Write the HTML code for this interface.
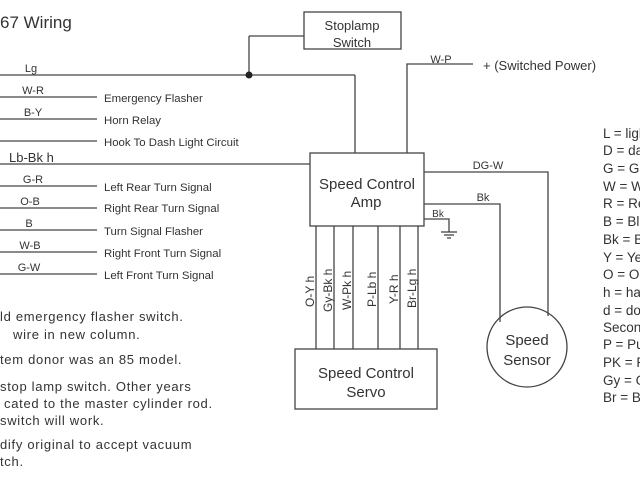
<!DOCTYPE html>
<html><head><meta charset="utf-8"><style>
html,body{margin:0;padding:0;background:#fff;width:640px;height:480px;overflow:hidden}
svg text{font-family:"Liberation Sans",sans-serif;fill:#333}
</style></head><body>
<svg width="640" height="480" viewBox="0 0 640 480" xmlns="http://www.w3.org/2000/svg">
<g stroke="#444" stroke-width="1.3" fill="none">
<line x1="0" y1="75" x2="355" y2="75"/>
<line x1="355" y1="75" x2="355" y2="153"/>
<line x1="249" y1="75" x2="249" y2="36"/>
<line x1="249" y1="36" x2="304" y2="36"/>
<line x1="0" y1="97" x2="97" y2="97"/>
<line x1="0" y1="119" x2="97" y2="119"/>
<line x1="0" y1="141" x2="97" y2="141"/>
<line x1="0" y1="164" x2="310" y2="164"/>
<line x1="0" y1="186" x2="97" y2="186"/>
<line x1="0" y1="208" x2="97" y2="208"/>
<line x1="0" y1="230" x2="97" y2="230"/>
<line x1="0" y1="252" x2="97" y2="252"/>
<line x1="0" y1="274" x2="97" y2="274"/>
<rect x="304" y="12" width="97" height="37"/>
<rect x="310" y="153" width="114" height="73"/>
<rect x="295" y="349" width="142" height="60"/>
<circle cx="527" cy="347" r="40"/>
<polyline points="407,153 407,64 473,64"/>
<polyline points="424,172 548,172 548,316"/>
<polyline points="424,204 500,204 500,322"/>
<polyline points="424,219 449,219 449,232"/>
<line x1="441" y1="232" x2="457" y2="232"/>
<line x1="444" y1="235" x2="454" y2="235"/>
<line x1="447" y1="238" x2="451" y2="238"/>
<line x1="316" y1="226" x2="316" y2="349"/>
<line x1="334" y1="226" x2="334" y2="349"/>
<line x1="353" y1="226" x2="353" y2="349"/>
<line x1="378" y1="226" x2="378" y2="349"/>
<line x1="400" y1="226" x2="400" y2="349"/>
<line x1="418" y1="226" x2="418" y2="349"/>
</g>
<circle cx="249" cy="75" r="3.5" fill="#222"/>
<text x="0" y="28" font-size="17">67 Wiring</text>
<g font-size="11" text-anchor="middle">
<text x="31" y="72">Lg</text>
<text x="33" y="94">W-R</text>
<text x="33" y="116">B-Y</text>
<text x="33" y="183">G-R</text>
<text x="30" y="205">O-B</text>
<text x="29" y="227">B</text>
<text x="30" y="249">W-B</text>
<text x="29" y="271">G-W</text>
<text x="441" y="63">W-P</text>
<text x="488" y="169">DG-W</text>
<text x="483" y="201">Bk</text>
<text x="438" y="217" font-size="10">Bk</text>
</g>
<text x="9" y="162" font-size="13">Lb-Bk h</text>
<g font-size="11.4">
<text x="104" y="102">Emergency Flasher</text>
<text x="104" y="124">Horn Relay</text>
<text x="104" y="146">Hook To Dash Light Circuit</text>
<text x="104" y="191">Left Rear Turn Signal</text>
<text x="104" y="212">Right Rear Turn Signal</text>
<text x="104" y="235">Turn Signal Flasher</text>
<text x="104" y="257">Right Front Turn Signal</text>
<text x="104" y="279">Left Front Turn Signal</text>
</g>
<g font-size="13" text-anchor="middle">
<text x="352" y="30">Stoplamp</text>
<text x="352" y="47">Switch</text>
</g>
<text x="483" y="70" font-size="13">+ (Switched Power)</text>
<g font-size="15" text-anchor="middle">
<text x="367" y="189">Speed Control</text>
<text x="366" y="207">Amp</text>
<text x="366" y="378">Speed Control</text>
<text x="366" y="397">Servo</text>
<text x="527" y="345">Speed</text>
<text x="527" y="365">Sensor</text>
</g>
<g font-size="12">
<text transform="translate(314,307) rotate(-90)">O-Y h</text>
<text transform="translate(332,312) rotate(-90)">Gy-Bk h</text>
<text transform="translate(351,310) rotate(-90)">W-Pk h</text>
<text transform="translate(376,307) rotate(-90)">P-Lb h</text>
<text transform="translate(398,304) rotate(-90)">Y-R h</text>
<text transform="translate(416,308) rotate(-90)">Br-Lg h</text>
</g>
<g font-size="13.5">
<text x="603" y="138">L = light</text>
<text x="603" y="155">D = dark</text>
<text x="603" y="173">G = Green</text>
<text x="603" y="191">W = White</text>
<text x="603" y="208">R = Red</text>
<text x="603" y="226">B = Blue</text>
<text x="603" y="244">Bk = Black</text>
<text x="603" y="262">Y = Yellow</text>
<text x="603" y="279">O = Orange</text>
<text x="603" y="297">h = hash</text>
<text x="603" y="315">d = dot</text>
<text x="603" y="332">Second</text>
<text x="603" y="349">P = Purple</text>
<text x="603" y="367">PK = Pink</text>
<text x="603" y="385">Gy = Gray</text>
<text x="603" y="402">Br = Brown</text>
</g>
<g font-size="13" letter-spacing="0.7">
<text x="0" y="321">ld emergency flasher switch.</text>
<text x="13" y="339">wire in new column.</text>
<text x="0" y="364">tem donor was an 85 model.</text>
<text x="0" y="391">stop lamp switch. Other years</text>
<text x="4" y="408">cated to the master cylinder rod.</text>
<text x="0" y="425">switch will work.</text>
<text x="0" y="449">dify original to accept vacuum</text>
<text x="0" y="466">tch.</text>
</g>
</svg>
</body></html>
